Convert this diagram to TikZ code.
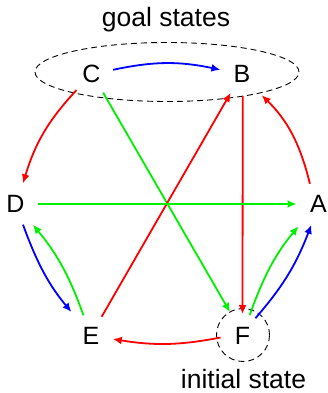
\documentclass[tikz,border=0pt]{standalone}
\usepackage{fontspec}
\setmainfont{Liberation Sans}
\usetikzlibrary{arrows.meta}
\definecolor{cred}{RGB}{255,0,0}
\definecolor{cgreen}{RGB}{0,240,0}
\definecolor{cblue}{RGB}{0,0,255}
\begin{document}
\begin{tikzpicture}[x=1pt,y=1pt,
  state/.style={circle,minimum size=44pt,inner sep=0pt,outer sep=0pt,font=\fontsize{25}{28}\selectfont},
  lbl/.style={inner sep=0pt,anchor=base,font=\fontsize{26.5}{30}\selectfont},
  edge/.style={line width=1.8pt,-{Latex[length=9pt,width=8pt]}},
  grp/.style={draw=black,dash pattern=on 6pt off 4pt,line width=0.9pt}
]
\useasboundingbox (0,0) rectangle (328,393);
\node[state] (C) at (91.5,319) {C};
\node[state] (B) at (242,319) {B};
\node[state] (D) at (15.5,189) {D};
\node[state] (A) at (318.5,189) {A};
\node[state] (E) at (91,57) {E};
\node[state] (F) at (242.5,57) {F};
\node[lbl] (goal) at (166,366) {goal states};
\node[lbl] (init) at (243.5,5) {initial state};
\draw[grp] (167,321) ellipse [x radius=132, y radius=29.5];
\draw[grp] (243,58) circle [radius=26.5];
% edges
\draw[edge,cblue] (C.11) to[bend left=12] (B.169);
\draw[edge,cred] (C.227) to[bend right=13] (D.70);
\draw[edge,cgreen,shorten >=5pt] (C.-58) -- (F.117);
\draw[edge,cred] (B.-88) -- (F.90);
\draw[edge,cred] (E.61) -- (B.-121);
\draw[edge,cred,shorten >=7pt] (A.113) to[bend right=16] (B.-48);
\draw[edge,cgreen] (D.0) -- (A.180);
\draw[edge,cblue,shorten >=9pt] (D.-70) to[bend right=10] (E.129);
\draw[edge,cgreen,shorten >=5pt] (E.110) to[bend right=10] (D.-50);
\draw[edge,cgreen,shorten >=8pt] (F.71) to[bend left=10] (A.-133);
\draw[edge,cblue] (F.54) to[bend right=10] (A.-109);
\draw[edge,cred] (F.184) to[bend left=10] (E.-8);
\end{tikzpicture}
\end{document}
